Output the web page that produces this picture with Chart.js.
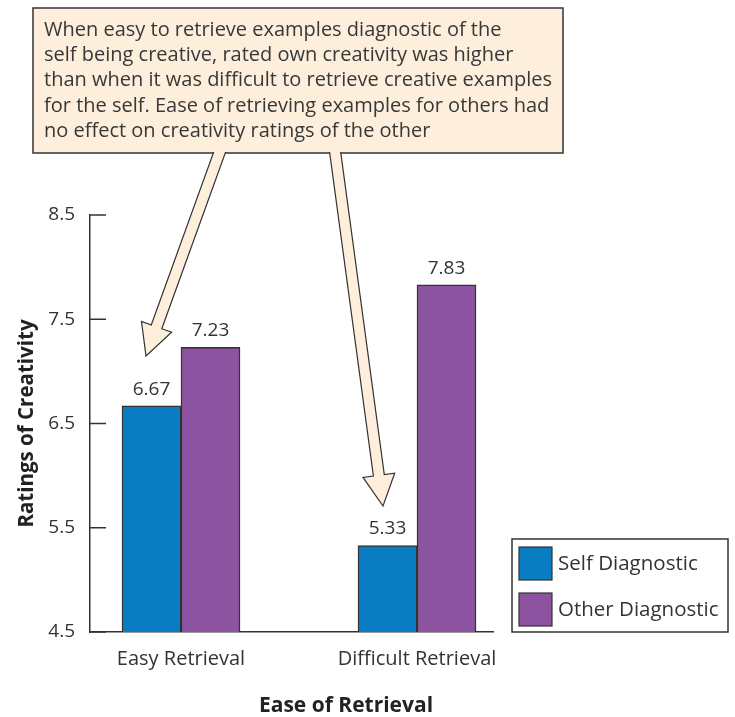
<!DOCTYPE html>
<html>
<head>
<meta charset="utf-8">
<script src="https://cdn.jsdelivr.net/npm/chart.js@4.4.0/dist/chart.umd.min.js"></script>
<style>
  html, body { margin: 0; padding: 0; background: #fff; }
</style>
</head>
<body>
<canvas id="chart" width="735" height="717"></canvas>
<script>
// chart data
const categories = ['Easy Retrieval', 'Difficult Retrieval'];
const seriesNames = ['Self Diagnostic', 'Other Diagnostic'];
const selfValues = [6.67, 5.33];
const otherValues = [7.23, 7.83];
const yTicks = [4.5, 5.5, 6.5, 7.5, 8.5];
const noteLines = [
    'When easy to retrieve examples diagnostic of the',
    'self being creative, rated own creativity was higher',
    'than when it was difficult to retrieve creative examples',
    'for the self. Ease of retrieving examples for others had',
    'no effect on creativity ratings of the other'
];

const blue = '#0a7dc2';
const purple = '#8b53a0';
const ink = '#333';
const peach = '#fdefdb';
const fontFamily = '"Open Sans", Lato, sans-serif';

Chart.defaults.font.family = fontFamily;
Chart.defaults.color = ink;

function arrow(ctx, bx, by, tx, ty, half, headHalf, headLen) {
    const dx = tx - bx, dy = ty - by;
    const len = Math.hypot(dx, dy);
    const ux = dx / len, uy = dy / len;
    const nx = -uy, ny = ux;
    const cx = tx - ux * headLen, cy = ty - uy * headLen;
    const pts = [
        [bx + nx * half, by + ny * half],
        [cx + nx * half, cy + ny * half],
        [cx + nx * headHalf, cy + ny * headHalf],
        [tx, ty],
        [cx - nx * headHalf, cy - ny * headHalf],
        [cx - nx * half, cy - ny * half],
        [bx - nx * half, by - ny * half]
    ];
    ctx.beginPath();
    pts.forEach((p, i) => i ? ctx.lineTo(p[0], p[1]) : ctx.moveTo(p[0], p[1]));
    ctx.closePath();
    ctx.fillStyle = peach;
    ctx.fill();
    ctx.beginPath();
    pts.forEach((p, i) => i ? ctx.lineTo(p[0], p[1]) : ctx.moveTo(p[0], p[1]));
    ctx.strokeStyle = ink;
    ctx.lineWidth = 1.2;
    ctx.stroke();
}

const overlay = {
    id: 'overlay',
    afterDraw(chart) {
        const ctx = chart.ctx;
        const xs = chart.scales.x, ys = chart.scales.y;
        ctx.save();

        // inward tick marks on the y axis
        ctx.strokeStyle = ink;
        ctx.lineWidth = 1.5;
        yTicks.forEach(v => {
            const py = ys.getPixelForValue(v);
            ctx.beginPath();
            ctx.moveTo(xs.left, py);
            ctx.lineTo(xs.left + 16, py);
            ctx.stroke();
        });

        // value labels over bars
        ctx.fillStyle = ink;
        ctx.font = '19px ' + fontFamily;
        ctx.textAlign = 'center';
        ctx.textBaseline = 'alphabetic';
        chart.data.datasets.forEach((ds, di) => {
            chart.getDatasetMeta(di).data.forEach((bar, i) => {
                ctx.fillText(ds.data[i].y.toFixed(2), bar.x, bar.y - 11);
            });
        });

        // x axis title
        ctx.fillStyle = '#222';
        ctx.font = 'bold 21px ' + fontFamily;
        ctx.textBaseline = 'alphabetic';
        ctx.fillText('Ease of Retrieval', 346, 712);

        // legend
        ctx.strokeStyle = ink;
        ctx.lineWidth = 1.5;
        ctx.strokeRect(512, 539, 216, 93);
        chart.data.datasets.forEach((ds, di) => {
            const top = 547 + di * 46;
            ctx.fillStyle = ds.backgroundColor;
            ctx.fillRect(519, top, 33, 33);
            ctx.lineWidth = 1.2;
            ctx.strokeRect(519, top, 33, 33);
            ctx.fillStyle = ink;
            ctx.font = '20.5px ' + fontFamily;
            ctx.textAlign = 'left';
            ctx.textBaseline = 'middle';
            ctx.fillText(ds.label, 558, top + 17);
        });

        // note box
        ctx.fillStyle = peach;
        ctx.fillRect(33, 8, 530, 145);
        ctx.strokeStyle = ink;
        ctx.lineWidth = 1.5;
        ctx.strokeRect(33, 8, 530, 145);
        ctx.fillStyle = '#383838';
        ctx.font = '20px ' + fontFamily;
        ctx.textAlign = 'left';
        ctx.textBaseline = 'alphabetic';
        noteLines.forEach((t, i) => ctx.fillText(t, 44, 36 + i * 25.2));

        // arrows out of the box
        ctx.save();
        ctx.beginPath();
        ctx.rect(0, 152, chart.width, chart.height);
        ctx.clip();
        arrow(ctx, 224, 140, 146, 356, 5.6, 16, 31);
        arrow(ctx, 333.5, 140, 383, 506, 5.5, 16, 31);
        ctx.restore();

        ctx.restore();
    }
};

new Chart(document.getElementById('chart'), {
    type: 'bar',
    data: {
        datasets: [
            {
                label: seriesNames[0],
                data: selfValues.map((v, i) => ({ x: i + 1, y: v })),
                backgroundColor: blue,
                borderColor: ink,
                borderWidth: 1.5
            },
            {
                label: seriesNames[1],
                data: otherValues.map((v, i) => ({ x: i + 1, y: v })),
                backgroundColor: purple,
                borderColor: ink,
                borderWidth: 1.5
            }
        ]
    },
    options: {
        responsive: false,
        animation: false,
        barThickness: 59,
        layout: { padding: { top: 215, right: 242, bottom: 0, left: 0 } },
        plugins: {
            legend: { display: false },
            tooltip: { enabled: false }
        },
        scales: {
            x: {
                type: 'linear',
                offset: false,
                min: 0.6144,
                max: 2.322,
                grid: { display: false, drawTicks: false, offset: false },
                border: { display: true, color: ink, width: 1.5 },
                afterBuildTicks: s => { s.ticks = categories.map((c, i) => ({ value: i + 1 })); },
                afterFit: s => { s.height = 85; },
                ticks: {
                    padding: 15,
                    color: ink,
                    font: { size: 20 },
                    callback: v => categories[Math.round(v) - 1] || ''
                }
            },
            y: {
                min: 4.5,
                max: 8.5,
                grid: { display: false, drawTicks: false },
                border: { display: true, color: ink, width: 1.5 },
                afterBuildTicks: s => { s.ticks = yTicks.map(v => ({ value: v })); },
                afterFit: s => { s.width = 90; },
                ticks: {
                    padding: 15,
                    color: ink,
                    font: { size: 19 },
                    callback: v => v.toFixed(1)
                },
                title: {
                    display: true,
                    text: 'Ratings of Creativity',
                    color: '#222',
                    font: { size: 20.5, weight: 'bold' },
                    padding: { top: 15 }
                }
            }
        }
    },
    plugins: [overlay]
});
</script>
</body>
</html>
